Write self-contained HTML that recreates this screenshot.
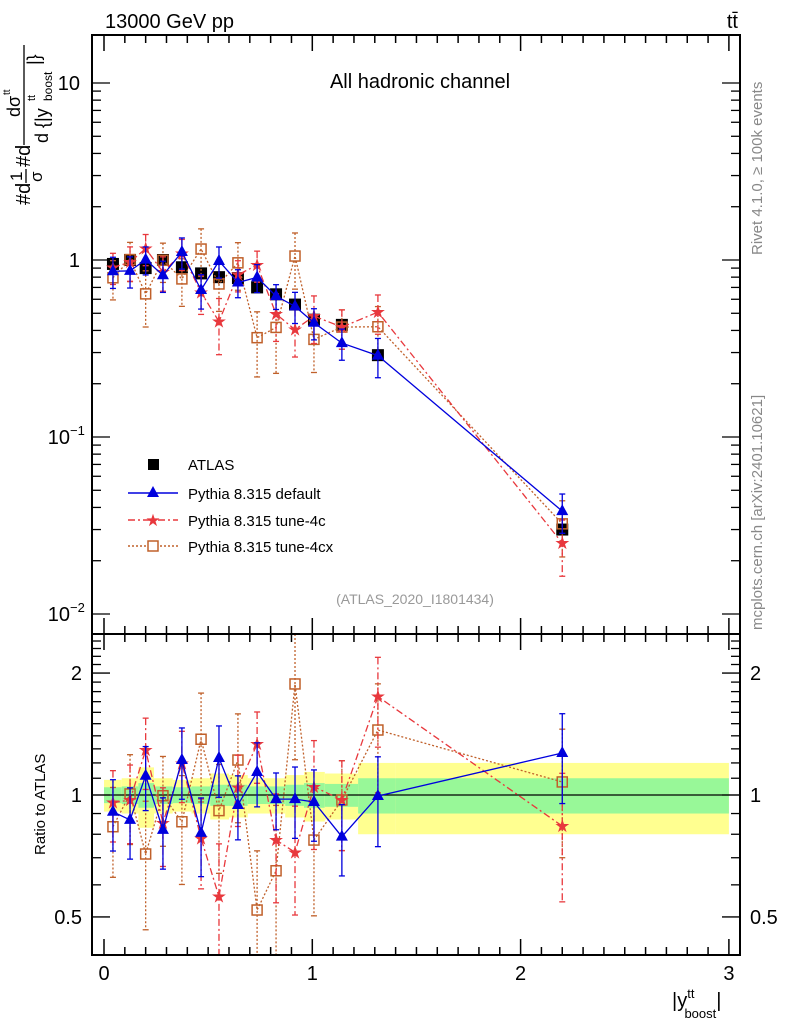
<!DOCTYPE html>
<html><head><meta charset="utf-8"><style>
body{margin:0;background:#fff;font-family:"Liberation Sans",sans-serif}
svg text{font-family:"Liberation Sans",sans-serif}
</style></head><body>
<svg id="c" width="786" height="1024" viewBox="0 0 786 1024" xmlns="http://www.w3.org/2000/svg">
<text x="105" y="28" font-size="20">13000 GeV pp</text>
<text x="738" y="28" font-size="20" text-anchor="end">tt̄</text>
<text x="420" y="88" font-size="20" text-anchor="middle">All hadronic channel</text>
<text x="415" y="604" font-size="14" fill="#999" text-anchor="middle">(ATLAS_2020_I1801434)</text>
<text transform="translate(762,255) rotate(-90)" font-size="15" fill="#888">Rivet 4.1.0, ≥ 100k events</text>
<text transform="translate(762,630) rotate(-90)" font-size="15" fill="#888">mcplots.cern.ch [arXiv:2401.10621]</text>
<g transform="translate(30,205) rotate(-90)">
<text x="0" y="0" font-size="20">#d</text>
<text x="24" y="-8" font-size="17">1</text>
<line x1="22" y1="-4" x2="36" y2="-4" stroke="#000" stroke-width="1.3"/>
<text x="23" y="12" font-size="17">σ</text>
<text x="38" y="0" font-size="20">#d</text>
<line x1="60" y1="-6" x2="160" y2="-6" stroke="#000" stroke-width="1.3"/>
<text x="88" y="-10" font-size="18">dσ</text>
<text x="110" y="-20" font-size="10">tt</text>
<text x="62" y="18" font-size="18">d {|y</text>
<text x="104" y="5" font-size="11">tt</text>
<text x="104" y="22" font-size="12">boost</text>
<text x="140" y="10" font-size="18">|}</text>
</g>
<text transform="translate(45,855) rotate(-90)" font-size="15">Ratio to ATLAS</text>
<text x="672" y="1007" font-size="20">|y<tspan font-size="13" dy="-9">tt</tspan><tspan font-size="13" dx="-10" dy="20">boost</tspan><tspan dy="-11">|</tspan></text>
<g id="bands"></g><g id="marks"></g><g id="axes"></g>
<g>
<rect x="148" y="459" width="11" height="11" fill="#000"/><text x="188" y="470" font-size="15">ATLAS</text>
<line x1="128" y1="493" x2="178" y2="493" stroke="#0000dd" stroke-width="1.5"/><polygon points="153,486 159,497 147,497" fill="#0000dd"/><text x="188" y="499" font-size="15">Pythia 8.315 default</text>
<line x1="128" y1="520" x2="178" y2="520" stroke="#e8383d" stroke-width="1.5" stroke-dasharray="7,3,2,3"/><text x="153" y="526" font-size="17" fill="#e8383d" text-anchor="middle">★</text><text x="188" y="526" font-size="15">Pythia 8.315 tune-4c</text>
<line x1="128" y1="546" x2="178" y2="546" stroke="#c0602a" stroke-width="1.5" stroke-dasharray="2,2"/><rect x="148" y="541" width="10" height="10" fill="#fff" stroke="#c0602a" stroke-width="1.5"/><text x="188" y="552" font-size="15">Pythia 8.315 tune-4cx</text>
</g>
</svg>
<script>
const xCenters=[0.043,0.125,0.2,0.283,0.374,0.466,0.552,0.643,0.735,0.826,0.917,1.008,1.142,1.315,2.2];
const binEdges=[0,0.085,0.165,0.24,0.33,0.42,0.51,0.6,0.69,0.78,0.87,0.96,1.06,1.22,1.4,3.0];
const atlasValues=[0.95,1.0,0.9,1.0,0.91,0.84,0.8,0.79,0.70,0.64,0.56,0.46,0.43,0.29,0.03];
const bandTotal=[0.09,0.1,0.17,0.1,0.09,0.1,0.13,0.12,0.1,0.1,0.12,0.14,0.13,0.2,0.2];
const bandStat=[0.045,0.05,0.07,0.05,0.045,0.05,0.06,0.06,0.05,0.05,0.06,0.07,0.065,0.1,0.1];
const ratioDefault=[0.909,0.868,1.116,0.82,1.22,0.806,1.234,0.945,1.14,0.977,0.977,0.961,0.789,0.994,1.27];
const errDefault=[0.2,0.2,0.18,0.2,0.2,0.22,0.2,0.18,0.18,0.16,0.2,0.2,0.2,0.25,0.25];
const ratio4c=[0.957,0.972,1.29,0.854,1.197,0.782,0.561,1.045,1.336,0.774,0.722,1.048,0.972,1.75,0.838];
const err4c=[0.2,0.22,0.2,0.22,0.2,0.25,0.35,0.2,0.2,0.3,0.3,0.3,0.25,0.25,0.35];
const ratio4cx=[0.835,1.006,0.715,0.996,0.859,1.373,0.915,1.22,0.52,0.65,1.88,0.774,0.972,1.447,1.077];
const err4cx=[0.25,0.25,0.35,0.25,0.3,0.3,0.3,0.3,0.4,0.45,0.35,0.35,0.25,0.3,0.35];
const NS='http://www.w3.org/2000/svg';
const L=92,R=740,T=35,M=634,B=955;
const X=v=>104+v*208.3;
const YT=v=>260-177*Math.log10(v);
const YR=v=>795-405*Math.log10(v);
function el(p,tag,at){const e=document.createElementNS(NS,tag);for(const k in at)e.setAttribute(k,at[k]);p.appendChild(e);return e;}
const bands=document.getElementById('bands'),marks=document.getElementById('marks'),axes=document.getElementById('axes');
for(let i=0;i<xCenters.length;i++){
  const x1=X(binEdges[i]),x2=X(binEdges[i+1]);
  const y=el(bands,'rect',{x:x1,y:YR(1+bandTotal[i]),width:x2-x1,height:YR(1-bandTotal[i])-YR(1+bandTotal[i]),fill:'#ffff90'});
  
  
  const g=el(bands,'rect',{x:x1,y:YR(1+bandStat[i]),width:x2-x1,height:YR(1-bandStat[i])-YR(1+bandStat[i]),fill:'#98f898'});
  
  
}
el(bands,'line',{x1:L,x2:R,y1:YR(1),y2:YR(1),stroke:'#000','stroke-width':1.2});
function clipY(y,top,bot){return Math.max(top,Math.min(bot,y));}
function series(ratios,errs,color,dash,marker,name){
  [[YT,T,M,true],[YR,M,B,false]].forEach(([Y,top,bot,isTop])=>{
    const pts=xCenters.map((x,i)=>[X(x),Y(isTop?ratios[i]*atlasValues[i]:ratios[i])]);
    const pl=el(marks,'polyline',{points:pts.map(p=>p.join(',')).join(' '),fill:'none',stroke:color,'stroke-width':1.3,'stroke-dasharray':dash});
    
    
    pts.forEach((p,i)=>{
      const base=isTop?ratios[i]*atlasValues[i]:ratios[i];
      const y1=clipY(Y(base*(1+errs[i])),top,bot),y2=clipY(Y(Math.max(base*(1-errs[i]),1e-4)),top,bot);
      el(marks,'line',{x1:p[0],x2:p[0],y1:y1,y2:y2,stroke:color,'stroke-width':1.3,'stroke-dasharray':dash});
      el(marks,'line',{x1:p[0]-3,x2:p[0]+3,y1:y1,y2:y1,stroke:color,'stroke-width':1.3});
      el(marks,'line',{x1:p[0]-3,x2:p[0]+3,y1:y2,y2:y2,stroke:color,'stroke-width':1.3});
      if(p[1]<top||p[1]>bot)return;
      let m;
      if(marker==='tri')m=el(marks,'polygon',{points:`${p[0]},${p[1]-7} ${p[0]+6},${p[1]+4} ${p[0]-6},${p[1]+4}`,fill:color});
      else if(marker==='star'){m=el(marks,'text',{x:p[0],y:p[1]+6,'font-size':18,fill:color,'text-anchor':'middle'});m.textContent='★';}
      else m=el(marks,'rect',{x:p[0]-5,y:p[1]-5,width:10,height:10,fill:'none',stroke:color,'stroke-width':1.5});
      
      
    });
  });
}
xCenters.forEach((x,i)=>{
  const r=el(marks,'rect',{x:X(x)-6,y:YT(atlasValues[i])-6,width:12,height:12,fill:'#000'});
  
  
});
series(ratio4cx,err4cx,'#c0602a','2,2','sq','tune-4cx');
series(ratio4c,err4c,'#e8383d','7,3,2,3','star','tune-4c');
series(ratioDefault,errDefault,'#0000dd','','tri','default');
[[T,M],[M,B]].forEach(([a,b])=>el(axes,'rect',{x:L,y:a,width:R-L,height:b-a,fill:'none',stroke:'#000','stroke-width':2}));
for(let k=0;k<=30;k++){const v=k/10,x=X(v);if(x>R)break;const len=k%10===0?16:8;
  [[M,1],[B,-1],[T,1]].forEach(([y0,d])=>el(axes,'line',{x1:x,x2:x,y1:y0,y2:y0+d*len,stroke:'#000','stroke-width':1.5}));
  el(axes,'line',{x1:x,x2:x,y1:M,y2:M-len,stroke:'#000','stroke-width':1.5});
  if(k%10===0){const t=el(axes,'text',{x:x,y:980,'font-size':20,'text-anchor':'middle'});t.textContent=String(v);}
}
const topLabels=[[10,'10'],[1,'1'],[0.1,'10'],[0.01,'10']],exps=['','','−1','−2'];
for(let d=-2;d<=1;d++)for(let m=1;m<10;m++){const v=m*Math.pow(10,d),y=YT(v);if(y<T||y>M)continue;const len=m===1?18:9;
  el(axes,'line',{x1:L,x2:L+len,y1:y,y2:y,stroke:'#000','stroke-width':1.3});el(axes,'line',{x1:R,x2:R-len,y1:y,y2:y,stroke:'#000','stroke-width':1.3});}
topLabels.forEach(([v,s],i)=>{const t=el(axes,'text',{x:exps[i]?70:80,y:YT(v)+7,'font-size':20,'text-anchor':'end'});t.textContent=s;
  if(exps[i]){const e=el(axes,'text',{x:70,y:YT(v)-2,'font-size':13});e.textContent=exps[i];}});
for(let v=0.4;v<=2.51;v+=0.1){const y=YR(v);if(y<M||y>B)continue;const maj=[0.5,1,2].some(q=>Math.abs(q-v)<1e-6);const len=maj?18:9;
  el(axes,'line',{x1:L,x2:L+len,y1:y,y2:y,stroke:'#000','stroke-width':1.3});el(axes,'line',{x1:R,x2:R-len,y1:y,y2:y,stroke:'#000','stroke-width':1.3});}
[[2,'2'],[1,'1'],[0.5,'0.5']].forEach(([v,s])=>{const a=el(axes,'text',{x:82,y:YR(v)+7,'font-size':20,'text-anchor':'end'});a.textContent=s;
  const b=el(axes,'text',{x:750,y:YR(v)+7,'font-size':20});b.textContent=s;});
</script>
</body></html>
